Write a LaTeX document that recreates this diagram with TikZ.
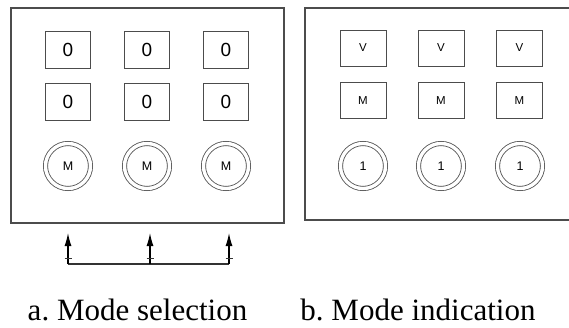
\documentclass[tikz,border=0pt]{standalone}
\usepackage{fontspec}
\setmainfont{Liberation Serif}
\newfontfamily\panelfont{Liberation Sans}
\usetikzlibrary{arrows, arrows.meta, positioning}

\begin{document}
\begin{tikzpicture}[x=1pt,y=-1pt]

\tikzset{box/.style = {shape=rectangle,draw=black!70,line width=0.8pt,minimum width=45pt,minimum height=37pt,inner sep=0pt}}
\tikzset{knob/.style = {shape=circle,draw=black!70,line width=0.8pt,double,double distance=3.4pt,minimum size=45pt,inner sep=0pt,font=\panelfont\fontsize{12.5}{14}\selectfont}}
\tikzset{caption/.style = {anchor=base,inner sep=0pt,font=\fontsize{31}{34}\selectfont}}
\useasboundingbox (0,0) rectangle (569,327);
\fill[white] (0,0) rectangle (569,327);
% panels
\draw[black!70,line width=1.3pt] (11,8) rectangle (284,223);
\draw[black!70,line width=1.3pt] (569,8) -- (305,8) -- (305,220) -- (569,220);
% mode selection
\node[box,font=\panelfont\fontsize{19}{21}\selectfont] (a1) at (68,49.5) {0};
\node[box,font=\panelfont\fontsize{19}{21}\selectfont] (a2) at (147,49.5) {0};
\node[box,font=\panelfont\fontsize{19}{21}\selectfont] (a3) at (226,49.5) {0};
\node[box,font=\panelfont\fontsize{19}{21}\selectfont] (a4) at (68,101.5) {0};
\node[box,font=\panelfont\fontsize{19}{21}\selectfont] (a5) at (147,101.5) {0};
\node[box,font=\panelfont\fontsize{19}{21}\selectfont] (a6) at (226,101.5) {0};
\node[knob] (ka) at (68,166) {M};
\node[knob] (kb) at (147,166) {M};
\node[knob] (kc) at (226,166) {M};
% mode indication
\node[box,minimum width=46pt,minimum height=36pt,font=\panelfont\fontsize{11.5}{13}\selectfont] (b1) at (363,48) {V};
\node[box,minimum width=46pt,minimum height=36pt,font=\panelfont\fontsize{11.5}{13}\selectfont] (b2) at (441,48) {V};
\node[box,minimum width=46pt,minimum height=36pt,font=\panelfont\fontsize{11.5}{13}\selectfont] (b3) at (519.5,48) {V};
\node[box,minimum width=46pt,minimum height=36pt,font=\panelfont\fontsize{11.5}{13}\selectfont] (b4) at (363,100.5) {M};
\node[box,minimum width=46pt,minimum height=36pt,font=\panelfont\fontsize{11.5}{13}\selectfont] (b5) at (441,100.5) {M};
\node[box,minimum width=46pt,minimum height=36pt,font=\panelfont\fontsize{11.5}{13}\selectfont] (b6) at (519.5,100.5) {M};
\node[knob] (kd) at (363,166) {1};
\node[knob] (ke) at (441,166) {1};
\node[knob] (kf) at (520,166) {1};
% selector lines
\coordinate (ina) at (68,233);
\coordinate (inb) at (150,233);
\coordinate (inc) at (229,233);
\coordinate (ba) at (68,264);
\coordinate (bb) at (150,264);
\coordinate (bc) at (229,264);
\draw[black!80,line width=1.3pt] (ba) -- (bb) -- (bc);
\draw[black,line width=1.2pt,-{Latex[length=13pt,width=7pt]}] (ba) -- (ina);
\draw[black,line width=1.2pt,-{Latex[length=13pt,width=7pt]}] (bb) -- (inb);
\draw[black,line width=1.2pt,-{Latex[length=13pt,width=7pt]}] (bc) -- (inc);
\draw[black!80,line width=1pt] (ba) ++(-3.5,-5.5) -- ++(7,0);
\draw[black!80,line width=1pt] (bb) ++(-3.5,-5.5) -- ++(7,0);
\draw[black!80,line width=1pt] (bc) ++(-3.5,-5.5) -- ++(7,0);
% captions
\node[caption] (capa) at (137.5,320.5) {a.\ Mode selection};
\node[caption] (capb) at (418,320.5) {b.\ Mode indication};
\end{tikzpicture}
\end{document}
